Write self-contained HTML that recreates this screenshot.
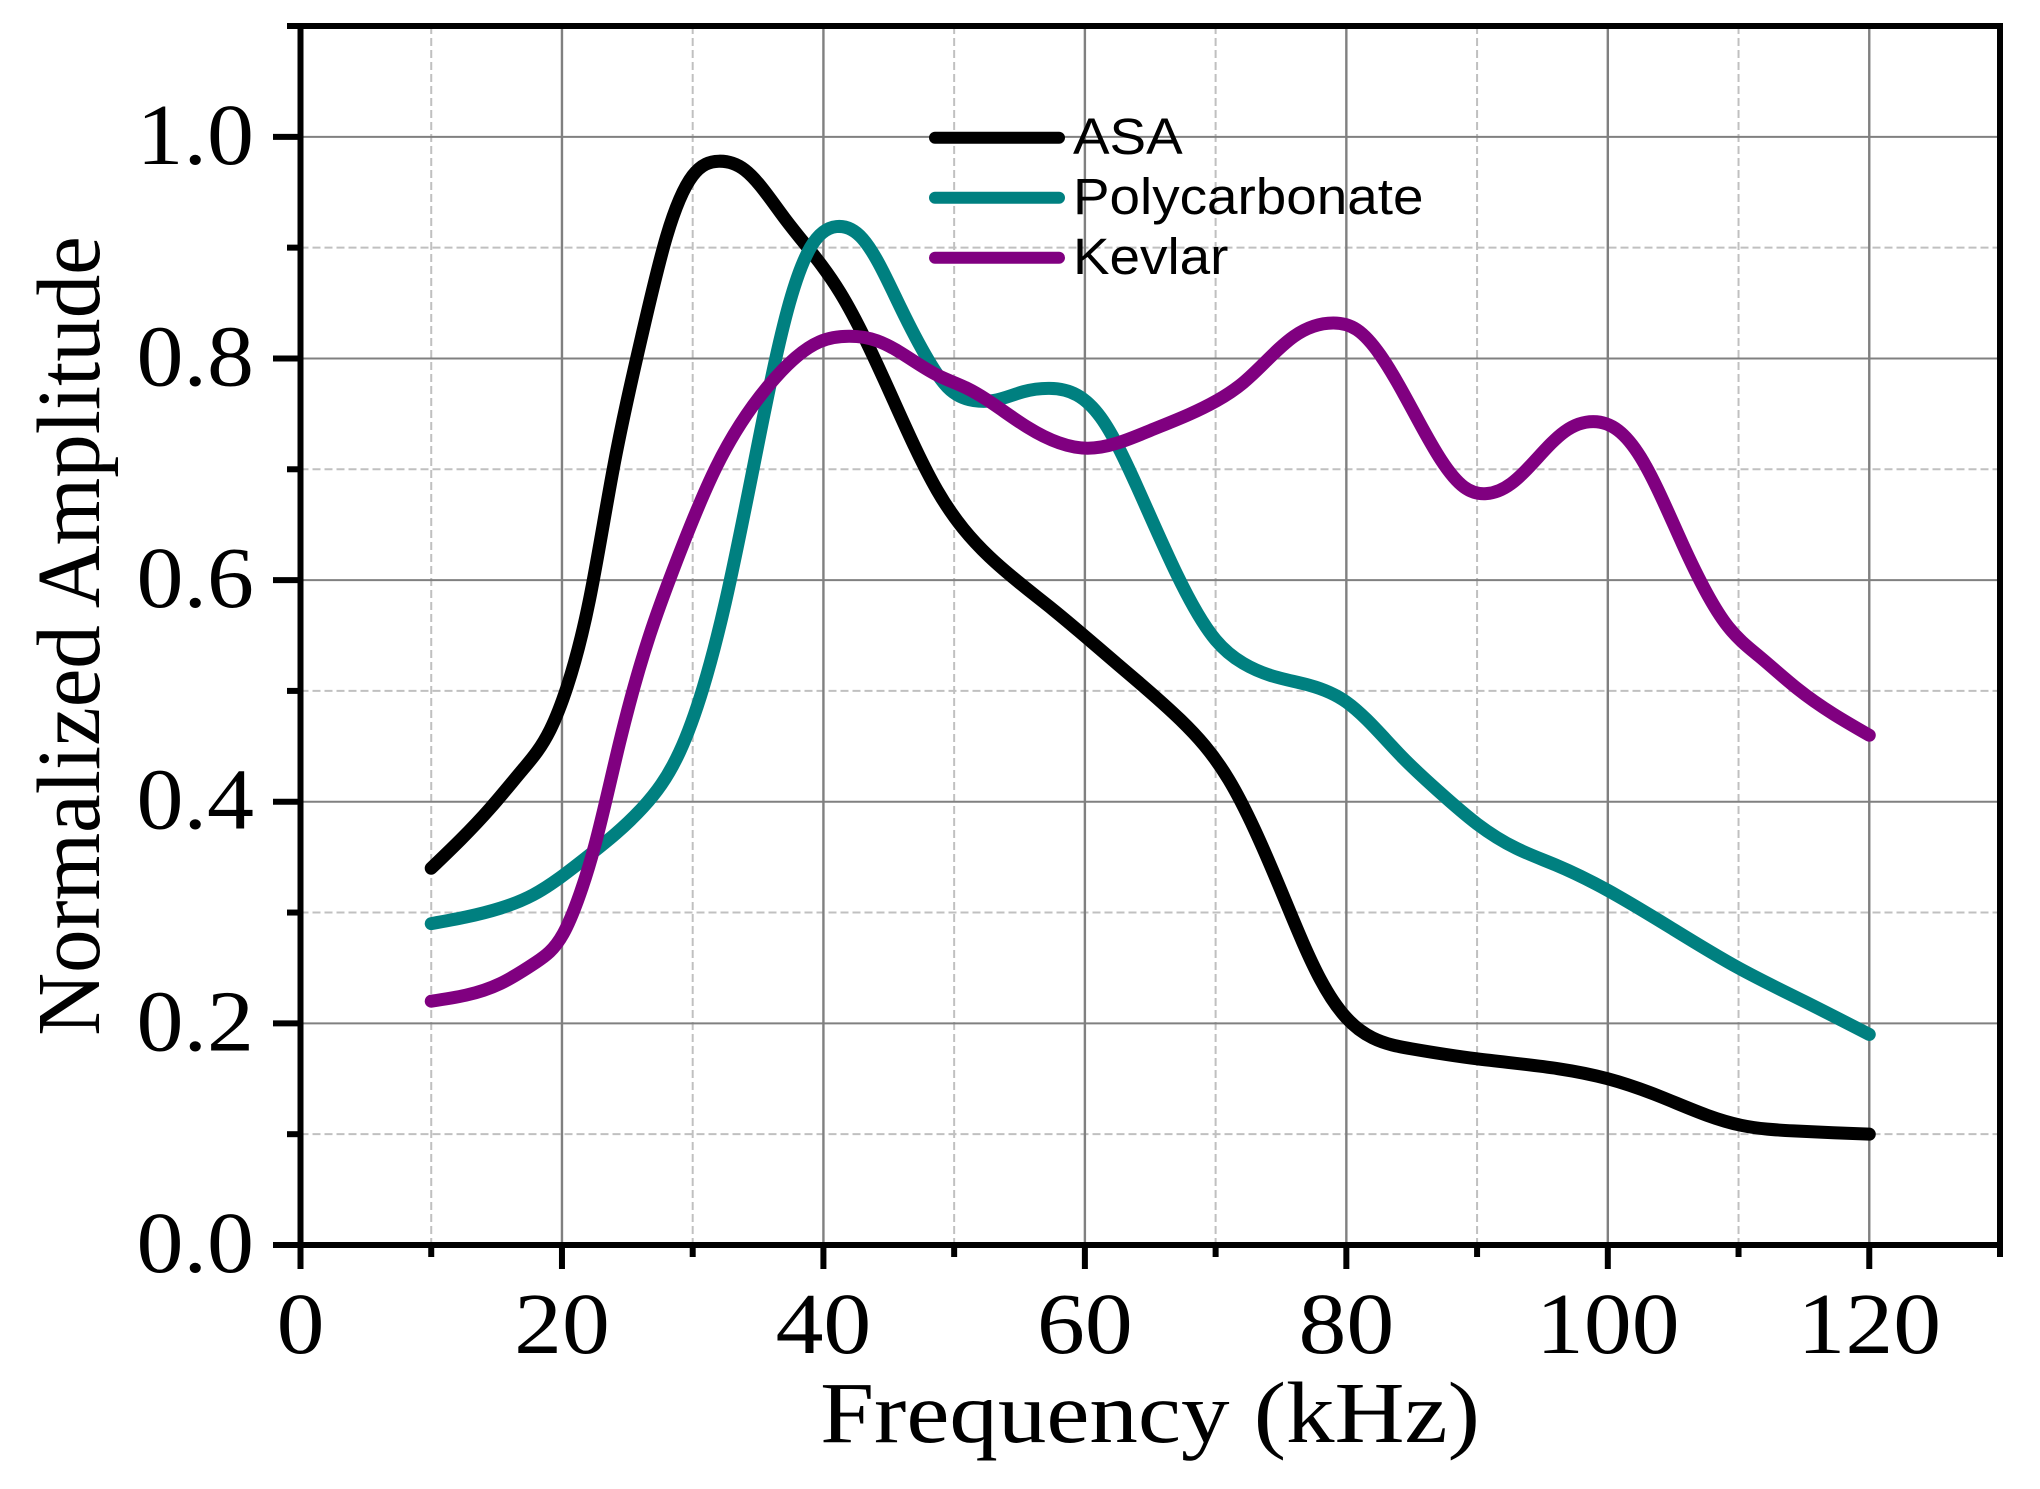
<!DOCTYPE html>
<html>
<head>
<meta charset="utf-8">
<title>Normalized Amplitude vs Frequency</title>
<style>
html,body{margin:0;padding:0;background:#fff;}
svg{display:block;}
text{fill:#000;}
.tick{font-family:"Liberation Serif",serif;font-size:87px;}
.title{font-family:"Liberation Serif",serif;font-size:87px;}
.leg{font-family:"Liberation Sans",sans-serif;font-size:51px;}
</style>
</head>
<body>
<svg id="chart" width="2040" height="1489" viewBox="0 0 2040 1489" xmlns="http://www.w3.org/2000/svg"></svg>
<script>
const xMajorTicks = [0, 20, 40, 60, 80, 100, 120];
const xMinorTicks = [10, 30, 50, 70, 90, 110, 130];
const yMajorTicks = [0, 0.2, 0.4, 0.6, 0.8, 1.0];
const yMinorTicks = [0.1, 0.3, 0.5, 0.7, 0.9, 1.1];
const yTickLabels = ['0.0', '0.2', '0.4', '0.6', '0.8', '1.0'];
const xTickLabels = ['0', '20', '40', '60', '80', '100', '120'];

const asaFreq = [10,14.5,17,19.1,20.4,22.1,23.9,26.1,28,30,32,34,37,41.3,45.1,48.7,52.7,57.6,62.4,67.3,71,75,78,80,82,85,90,100,104,107.6,110.2,114.2,120];
const asaAmp = [.34,.394,.429,.465,.504,.582,.699,.82,.91,.965,.978,.97,.927,.859,.769,.681,.621,.573,.525,.474,.42,.32,.24,.205,.187,.177,.168,.15,.134,.117,.108,.103,.10];

const pcFreq = [10,15.3,17.8,21.9,26.2,29,30.8,32.5,34.9,37.4,39,41,43,45.9,48,49.5,51.5,53,55.3,57.3,59.4,61.2,64,67,70,72.1,74.2,77.2,80,84.3,87,90,93,96,100,105,110,115,120];
const pcAmp = [.29,.304,.316,.35,.395,.445,.503,.58,.717,.85,.9,.919,.908,.846,.799,.774,.762,.762,.77,.773,.767,.747,.684,.606,.546,.525,.514,.505,.49,.44,.41,.38,.358,.343,.32,.285,.25,.22,.19];

const kevFreq = [10,15.3,18,20.1,21.2,22.5,24.4,26.7,28.5,31.8,35.7,39.7,42,44.1,48.7,51,55.6,60.2,65,70.1,72.1,76,79,80.8,82.6,85.5,89,90.7,92.6,96.7,98.9,100.8,102.5,105.7,109.2,111.6,114.5,120];
const kevAmp = [.22,.236,.255,.281,.311,.36,.453,.55,.609,.702,.774,.815,.82,.816,.785,.773,.738,.719,.735,.762,.778,.82,.832,.826,.803,.744,.684,.678,.687,.734,.743,.735,.711,.633,.558,.531,.502,.46];

const seriesNames = ['ASA', 'Polycarbonate', 'Kevlar'];
const seriesColors = ['#000000', '#008080', '#800080'];

const xMin = 0, xMax = 130, yMin = 0, yMax = 1.1;
const plotLeft = 300.5, plotRight = 2000, plotBottom = 1245, plotTop = 26;
function sx(v){ return plotLeft + (v - xMin) / (xMax - xMin) * (plotRight - plotLeft); }
function sy(v){ return plotBottom - (v - yMin) / (yMax - yMin) * (plotBottom - plotTop); }

const NS = 'http://www.w3.org/2000/svg';
const svg = document.getElementById('chart');
function mk(tag, attrs, parent){
  const el = document.createElementNS(NS, tag);
  for (const k in attrs) el.setAttribute(k, attrs[k]);
  (parent || svg).appendChild(el);
  return el;
}
/* natural cubic spline through the data, emitted as Bezier segments */
function smoothPath(xs, ys){
  const X = xs.map(sx), Y = ys.map(sy), n = X.length;
  const a = new Array(n).fill(0), b = new Array(n).fill(1), c = new Array(n).fill(0), r = new Array(n).fill(0);
  for (let i = 1; i < n - 1; i++){
    const h0 = X[i] - X[i - 1], h1 = X[i + 1] - X[i];
    a[i] = h0; b[i] = 2 * (h0 + h1); c[i] = h1;
    r[i] = 6 * ((Y[i + 1] - Y[i]) / h1 - (Y[i] - Y[i - 1]) / h0);
  }
  for (let i = 1; i < n; i++){
    const m = a[i] / b[i - 1];
    b[i] -= m * c[i - 1];
    r[i] -= m * r[i - 1];
  }
  const M = new Array(n).fill(0);
  M[n - 1] = r[n - 1] / b[n - 1];
  for (let i = n - 2; i >= 0; i--) M[i] = (r[i] - c[i] * M[i + 1]) / b[i];
  let d = 'M' + X[0].toFixed(2) + ' ' + Y[0].toFixed(2);
  for (let i = 0; i < n - 1; i++){
    const h = X[i + 1] - X[i], s = (Y[i + 1] - Y[i]) / h;
    const d0 = s - h * (2 * M[i] + M[i + 1]) / 6;
    const d1 = s + h * (M[i] + 2 * M[i + 1]) / 6;
    d += 'C' + (X[i] + h / 3).toFixed(2) + ' ' + (Y[i] + d0 * h / 3).toFixed(2) + ' ' + (X[i + 1] - h / 3).toFixed(2) + ' ' + (Y[i + 1] - d1 * h / 3).toFixed(2) + ' ' + X[i + 1].toFixed(2) + ' ' + Y[i + 1].toFixed(2);
  }
  return d;
}

/* minor grid */
xMinorTicks.slice(0, -1).forEach(v => {
  const el = mk('line', {x1: sx(v), x2: sx(v), y1: plotTop, y2: plotBottom, stroke: '#c0c0c0', 'stroke-width': 2, 'stroke-dasharray': '8 4'});
  
  
});
yMinorTicks.slice(0, -1).forEach(v => {
  const el = mk('line', {x1: plotLeft, x2: plotRight, y1: sy(v), y2: sy(v), stroke: '#c0c0c0', 'stroke-width': 2, 'stroke-dasharray': '8 4'});
  
  
});
/* major grid */
xMajorTicks.slice(1).forEach(v => {
  const el = mk('line', {x1: sx(v), x2: sx(v), y1: plotTop, y2: plotBottom, stroke: '#808080', 'stroke-width': 2.4});
  
  
});
yMajorTicks.slice(1).forEach(v => {
  const el = mk('line', {x1: plotLeft, x2: plotRight, y1: sy(v), y2: sy(v), stroke: '#808080', 'stroke-width': 2});
  
  
});

/* axes frame */
const frame = mk('path', {d: 'M287 ' + plotTop + 'H' + (plotRight + 3) + 'M' + plotRight + ' ' + plotTop + 'V1257M273 ' + plotBottom + 'H' + plotRight + 'M' + plotLeft + ' ' + plotTop + 'V1269', fill: 'none', stroke: '#000', 'stroke-width': 6});



/* ticks */
xMajorTicks.forEach((v, i) => {
  const t = mk('line', {x1: sx(v), x2: sx(v), y1: plotBottom, y2: 1269, stroke: '#000', 'stroke-width': 6});
  
  
  const l = mk('text', {transform: 'translate(' + sx(v) + ' 1353) scale(1.1 1)', 'text-anchor': 'middle', class: 'tick'});
  l.textContent = xTickLabels[i];
  
  
});
xMinorTicks.forEach(v => {
  const t = mk('line', {x1: sx(v), x2: sx(v), y1: plotBottom, y2: 1257, stroke: '#000', 'stroke-width': 6});
  
  
});
yMajorTicks.forEach((v, i) => {
  const t = mk('line', {x1: 273, x2: plotLeft, y1: sy(v), y2: sy(v), stroke: '#000', 'stroke-width': 6});
  
  
  const l = mk('text', {transform: 'translate(254 ' + (sy(v) + 27) + ') scale(1.08 1)', 'text-anchor': 'end', class: 'tick'});
  l.textContent = yTickLabels[i];
  
  
});
yMinorTicks.forEach(v => {
  const t = mk('line', {x1: 287, x2: plotLeft, y1: sy(v), y2: sy(v), stroke: '#000', 'stroke-width': 6});
  
  
});

/* series */
const asaLine = mk('path', {d: smoothPath(asaFreq, asaAmp), fill: 'none', stroke: seriesColors[0], 'stroke-width': 13, 'stroke-linecap': 'round', 'stroke-linejoin': 'round'});


const pcLine = mk('path', {d: smoothPath(pcFreq, pcAmp), fill: 'none', stroke: seriesColors[1], 'stroke-width': 13, 'stroke-linecap': 'round', 'stroke-linejoin': 'round'});


const kevLine = mk('path', {d: smoothPath(kevFreq, kevAmp), fill: 'none', stroke: seriesColors[2], 'stroke-width': 13, 'stroke-linecap': 'round', 'stroke-linejoin': 'round'});



/* legend */
const legendRowY = [137.7, 197.7, 257.7];
seriesNames.forEach((name, i) => {
  const s = mk('line', {x1: 935, x2: 1059, y1: legendRowY[i], y2: legendRowY[i], stroke: seriesColors[i], 'stroke-width': 12, 'stroke-linecap': 'round'});
  
  
  const l = mk('text', {transform: 'translate(1073 ' + (legendRowY[i] + 16.5) + ') scale(1.075 1)', class: 'leg'});
  l.textContent = name;
  
  
});

/* axis titles */
const xt = mk('text', {transform: 'translate(1150 1442) scale(1.115 1)', 'text-anchor': 'middle', class: 'title'});
xt.textContent = 'Frequency (kHz)';


const yt = mk('text', {transform: 'translate(99 636) rotate(-90) scale(1 1.03)', 'text-anchor': 'middle', class: 'title'});
yt.textContent = 'Normalized Amplitude';


</script>
</body>
</html>
